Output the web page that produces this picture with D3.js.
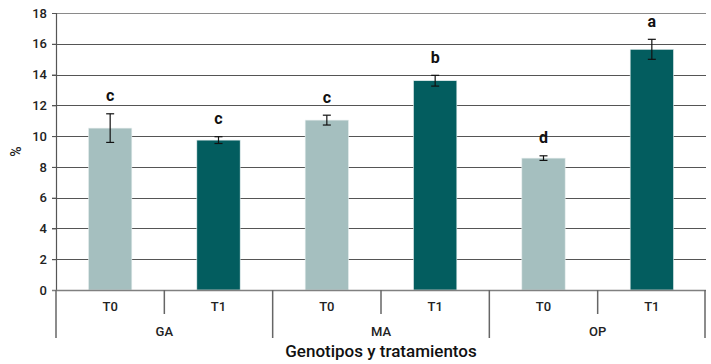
<!DOCTYPE html>
<html>
<head>
<meta charset="utf-8">
<script src="https://cdn.jsdelivr.net/npm/d3@7"></script>
<style>
  body { margin: 0; background: #fff; }
  svg { display: block; font-family: Roboto, sans-serif; }
</style>
</head>
<body>
<div id="chart"></div>
<script>
// data
const genotypes = ["GA", "MA", "OP"];
const treatments = ["T0", "T1"];
const values = [10.52, 9.74, 11.04, 13.6, 8.57, 15.64];
const errors = [0.93, 0.22, 0.32, 0.35, 0.15, 0.65];
const letters = ["c", "c", "c", "b", "d", "a"];
const yTicks = [0, 2, 4, 6, 8, 10, 12, 14, 16, 18];

const width = 711, height = 364;
const marginLeft = 56, marginRight = 5, marginTop = 13, marginBottom = 74;

const rows = [];
genotypes.forEach(function (g) {
    treatments.forEach(function (t) {
        rows.push({ key: g + "-" + t, g: g, t: t });
    });
});
rows.forEach(function (d, i) {
    d.value = values[i];
    d.err = errors[i];
    d.letter = letters[i];
});

const x = d3.scaleBand()
    .domain(rows.map(d => d.key))
    .range([marginLeft, width - marginRight])
    .paddingInner(0.6)
    .paddingOuter(0.3);

const y = d3.scaleLinear()
    .domain([0, 18])
    .range([height - marginBottom, marginTop]);

const color = d3.scaleOrdinal()
    .domain(treatments)
    .range(["#a5bfbf", "#035d5f"]);

const svg = d3.select("#chart").append("svg")
    .attr("width", width)
    .attr("height", height);

const y0 = y(0);
const step = x.step();

// grid lines
svg.append("g")
    .selectAll("line")
    .data(yTicks.filter(d => d > 0))
    .join("line")
    .attr("x1", marginLeft - 4)
    .attr("x2", width - marginRight)
    .attr("y1", d => Math.round(y(d)) + 0.5)
    .attr("y2", d => Math.round(y(d)) + 0.5)
    .attr("stroke", d => d === 18 ? "#8a8a8a" : "#555")
    .attr("stroke-width", 1.2);

// y axis
svg.append("g")
    .attr("transform", `translate(${marginLeft},0)`)
    .call(d3.axisLeft(y).tickValues(yTicks).tickSize(4).tickPadding(5))
    .call(g => g.select(".domain").attr("stroke", "#555").attr("stroke-width", 1.2))
    .call(g => g.selectAll(".tick line").attr("stroke", "#555"))
    .call(g => g.selectAll(".tick text")
        .attr("font-family", "Roboto, sans-serif")
        .attr("font-size", 13)
        .attr("font-weight", 500)
        .attr("fill", "#222"));

svg.append("text")
    .attr("transform", `translate(16,${(y(0) + y(18)) / 2}) rotate(-90)`)
    .attr("text-anchor", "middle")
    .attr("dy", "0.35em")
    .attr("font-size", 14)
    .attr("font-weight", 500)
    .attr("fill", "#222")
    .text("%");

// bars
svg.append("g")
    .selectAll("rect")
    .data(rows)
    .join("rect")
    .attr("x", d => x(d.key))
    .attr("y", d => y(d.value))
    .attr("width", x.bandwidth())
    .attr("height", d => y0 - y(d.value))
    .attr("fill", d => color(d.t))
    .attr("stroke", "#e6eeee")
    .attr("stroke-width", 0.6);

// error bars
const eb = svg.append("g")
    .attr("stroke", "#111")
    .attr("stroke-width", 1.2)
    .selectAll("g")
    .data(rows)
    .join("g")
    .attr("transform", d => `translate(${x(d.key) + x.bandwidth() / 2},0)`);

eb.append("line")
    .attr("y1", d => y(d.value + d.err))
    .attr("y2", d => y(d.value - d.err));
eb.append("line")
    .attr("x1", -4).attr("x2", 4)
    .attr("y1", d => y(d.value + d.err))
    .attr("y2", d => y(d.value + d.err));
eb.append("line")
    .attr("x1", -4).attr("x2", 4)
    .attr("y1", d => y(d.value - d.err))
    .attr("y2", d => y(d.value - d.err));

// significance letters
svg.append("g")
    .selectAll("text")
    .data(rows)
    .join("text")
    .attr("x", d => x(d.key) + x.bandwidth() / 2)
    .attr("y", d => y(d.value + d.err) - 18)
    .attr("dy", "0.35em")
    .attr("text-anchor", "middle")
    .attr("font-size", 16)
    .attr("font-weight", 700)
    .attr("fill", "#111")
    .text(d => d.letter);

// x axis baseline
svg.append("line")
    .attr("x1", marginLeft - 4)
    .attr("x2", width - marginRight)
    .attr("y1", y0 + 0.5)
    .attr("y2", y0 + 0.5)
    .attr("stroke", "#808080")
    .attr("stroke-width", 1.5);

const xAxis = svg.append("g")
    .attr("stroke", "#666")
    .attr("stroke-width", 1.5);

// separators between treatments inside a genotype
xAxis.selectAll(".inner")
    .data(genotypes)
    .join("line")
    .attr("class", "inner")
    .attr("x1", (g, i) => marginLeft + step * (2 * i + 1))
    .attr("x2", (g, i) => marginLeft + step * (2 * i + 1))
    .attr("y1", y0)
    .attr("y2", y0 + 24);

// separators between genotypes
xAxis.selectAll(".outer")
    .data(d3.range(genotypes.length + 1))
    .join("line")
    .attr("class", "outer")
    .attr("x1", i => Math.min(marginLeft + step * 2 * i, width - marginRight - 1))
    .attr("x2", i => Math.min(marginLeft + step * 2 * i, width - marginRight - 1))
    .attr("y1", y0)
    .attr("y2", y0 + 48);

svg.append("g")
    .selectAll("text")
    .data(rows)
    .join("text")
    .attr("x", d => x(d.key) + x.bandwidth() / 2)
    .attr("y", y0 + 16)
    .attr("dy", "0.35em")
    .attr("text-anchor", "middle")
    .attr("font-size", 13)
    .attr("font-weight", 500)
    .attr("fill", "#222")
    .text(d => d.t);

svg.append("g")
    .selectAll("text")
    .data(genotypes)
    .join("text")
    .attr("x", (g, i) => marginLeft + step * (2 * i + 1))
    .attr("y", y0 + 41)
    .attr("dy", "0.35em")
    .attr("text-anchor", "middle")
    .attr("font-size", 13)
    .attr("font-weight", 500)
    .attr("fill", "#222")
    .text(d => d);

svg.append("text")
    .attr("x", (marginLeft + width - marginRight) / 2)
    .attr("y", y0 + 61)
    .attr("dy", "0.35em")
    .attr("text-anchor", "middle")
    .attr("font-size", 17)
    .attr("font-weight", 500)
    .attr("fill", "#111")
    .text("Genotipos y tratamientos");
</script>
</body>
</html>
